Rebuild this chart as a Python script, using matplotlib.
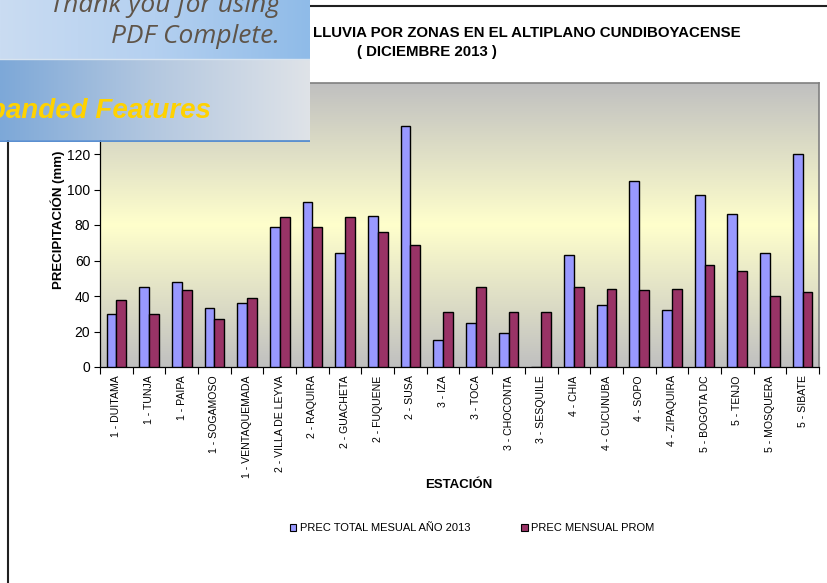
import numpy as np
import matplotlib
matplotlib.use("Agg")
import matplotlib.pyplot as plt
from matplotlib.lines import Line2D
from matplotlib.colors import LinearSegmentedColormap
from matplotlib.patches import Patch

plt.rcParams['font.family'] = ['Liberation Sans', 'DejaVu Sans']

stations = ["1 - DUITAMA", "1 - TUNJA", "1 - PAIPA", "1 - SOGAMOSO", "1 - VENTAQUEMADA",
            "2 - VILLA DE LEYVA", "2 - RAQUIRA", "2 - GUACHETA", "2 - FUQUENE", "2 - SUSA",
            "3 - IZA", "3 - TOCA", "3 - CHOCONTA", "3 - SESQUILE", "4 - CHIA", "4 - CUCUNUBA",
            "4 - SOPO", "4 - ZIPAQUIRA", "5 - BOGOTA DC", "5 - TENJO", "5 - MOSQUERA", "5 - SIBATE"]
prec_2013 = [30, 45, 48, 33, 36, 79, 93, 64, 85, 136, 15, 25, 19, 0, 63, 35, 105, 32, 97, 86, 64, 120]
prec_prom = [38, 30, 43.5, 27, 39, 84.5, 79, 84.5, 76, 69, 31, 45, 31, 31, 45, 44, 43.5, 44, 57.5, 54, 40, 42]
yticks = [0, 20, 40, 60, 80, 100, 120]

W, H = 828, 583
fig = plt.figure(figsize=(W / 100, H / 100), dpi=100)
fig.patch.set_facecolor('white')

def fx(x):
    return x / W

def fy(y):
    return 1 - y / H

# main plot area
ax = fig.add_axes([fx(100), fy(367), fx(819) - fx(100), fy(83) - fy(367)])
n = len(stations)
x = np.arange(n)
ax.set_xlim(-0.5, n - 0.5)
ax.set_ylim(0, 160)

bg = LinearSegmentedColormap.from_list('bg', ['#c0c0c0', '#ffffcc', '#c0c0c0'])
grad = np.linspace(0, 1, 256).reshape(-1, 1)
ax.imshow(grad, cmap=bg, aspect='auto', extent=(-0.5, n - 0.5, 0, 160), zorder=0, origin='lower')

bw = 0.3
ax.bar(x - bw / 2, prec_2013, bw, color='#9999ff', edgecolor='black', linewidth=1.0, zorder=3,
       label='PREC TOTAL MESUAL AÑO 2013')
ax.bar(x + bw / 2, prec_prom, bw, color='#993366', edgecolor='black', linewidth=1.0, zorder=3,
       label='PREC MENSUAL PROM')

ax.set_yticks(yticks)
ax.set_yticklabels([str(v) for v in yticks], fontsize=10)
ax.tick_params(axis='y', direction='out', length=4, width=0.8, pad=3)
ax.set_xticks(x)
ax.set_xticklabels(stations, rotation=90, fontsize=7.6, va='top')
ax.set_xticks(np.arange(-0.5, n, 1.0), minor=True)
ax.tick_params(axis='x', which='major', length=0, pad=6)
ax.tick_params(axis='x', which='minor', length=5, width=0.8, direction='out')

for s in ['top', 'right']:
    ax.spines[s].set_color('#808080')
    ax.spines[s].set_linewidth(1.2)
for s in ['left', 'bottom']:
    ax.spines[s].set_color('black')
    ax.spines[s].set_linewidth(0.9)

fig.text(fx(58), fy(220), 'PRECIPITACIÓN (mm)', rotation=90, ha='center', va='center',
         fontsize=9.5, fontweight='bold')
fig.text(fx(459), fy(485), 'ESTACIÓN', ha='center', va='center', fontsize=9.5, fontweight='bold')

# title
fig.text(fx(741), fy(33), 'LLUVIA POR ZONAS EN EL ALTIPLANO CUNDIBOYACENSE', ha='right', va='center',
         fontsize=10.8, fontweight='bold')
fig.text(fx(427), fy(52), '( DICIEMBRE 2013 )', ha='center', va='center', fontsize=10.8, fontweight='bold')

# legend
handles = [Patch(facecolor='#9999ff', edgecolor='black', linewidth=0.8),
           Patch(facecolor='#993366', edgecolor='black', linewidth=0.8)]
fig.legend(handles, ['PREC TOTAL MESUAL AÑO 2013', 'PREC MENSUAL PROM'], loc='center',
           bbox_to_anchor=(fx(472), fy(528)), ncol=2, frameon=False, fontsize=8,
           handlelength=0.6, handleheight=0.6, handletextpad=0.3, columnspacing=4.6)

# chart border lines
fig.add_artist(Line2D([fx(300), fx(828)], [fy(6), fy(6)], color='#202020', linewidth=1.5))
fig.add_artist(Line2D([fx(8), fx(8)], [fy(130), fy(583)], color='#202020', linewidth=1.5))

# PDF Complete banner overlay
ban = fig.add_axes([0, fy(142), fx(310), fy(0) - fy(142)], zorder=10)
ban.set_xlim(0, 310)
ban.set_ylim(142, 0)
ban.axis('off')
hgrad = np.linspace(0, 1, 256).reshape(1, -1)
top_cm = LinearSegmentedColormap.from_list('t', ['#cadcf2', '#b4d0f0', '#8fbbe8'])
bot_cm = LinearSegmentedColormap.from_list('b', ['#7da8d8', '#b4c8e0', '#dfe3e8'])
ban.imshow(hgrad, cmap=top_cm, aspect='auto', extent=(0, 310, 59, 0))
ban.imshow(hgrad, cmap=bot_cm, aspect='auto', extent=(0, 310, 140, 59))
ban.plot([0, 310], [141, 141], color='#5b8fd0', linewidth=2)
ban.plot([0, 310], [59, 59], color='#d8e4f0', linewidth=1)
ban.text(280, 12, 'Thank you for using', ha='right', va='baseline', fontsize=19,
         style='italic', color='#5f5448', family=['Open Sans', 'DejaVu Sans'])
ban.text(280, 43, 'PDF Complete.', ha='right', va='baseline', fontsize=19,
         style='italic', color='#5f5448', family=['Open Sans', 'DejaVu Sans'])
ban.text(211, 118, 'Expanded Features', ha='right', va='baseline', fontsize=20,
         style='italic', fontweight='bold', color='#ffd200')

fig.savefig('out.png', dpi=100)
